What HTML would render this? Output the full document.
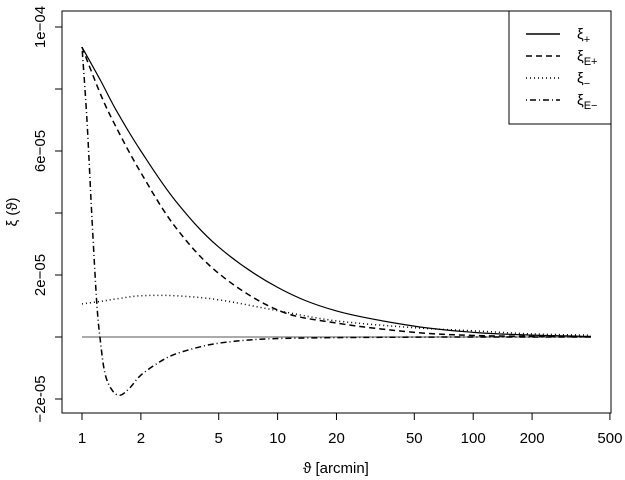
<!DOCTYPE html>
<html><head><meta charset="utf-8"><style>
body{margin:0;background:#fff}
svg{display:block;font-family:"Liberation Sans",sans-serif}
</style></head><body>
<svg id="chart" width="625" height="480" viewBox="0 0 625 480" xmlns="http://www.w3.org/2000/svg">
<rect x="0" y="0" width="625" height="480" fill="#fff"/>
<g id="axes"></g>
<g id="series"></g>
<g id="legend">
<rect x="509" y="11" width="102" height="113" fill="#fff" stroke="#000" stroke-width="1"/>
</g>
<text x="336" y="473" font-size="15" text-anchor="middle">ϑ [arcmin]</text>
<text transform="translate(17,212) rotate(-90)" font-size="15" text-anchor="middle">ξ (ϑ)</text>
</svg>
<script>
const xTicks=[1,2,5,10,20,50,100,200,500];
const yTicks=[-2e-5,0,2e-5,4e-5,6e-5,8e-5,1e-4];
const yTickLabels={"-2e-05":-2e-5,"2e-05":2e-5,"6e-05":6e-5,"1e-04":1e-4};
const thetaA=[1,1.25,1.5,2,3,5,10,20,50,100,200,400];
const xiPlus=[9.35e-5,8.25e-5,7.3e-5,6.0e-5,4.4e-5,2.9e-5,1.6e-5,0.84e-5,0.35e-5,0.15e-5,0.06e-5,0.02e-5];
const xiEPlus=[9.35e-5,7.8e-5,6.75e-5,5.3e-5,3.55e-5,2.05e-5,0.87e-5,0.45e-5,0.15e-5,0.05e-5,0.02e-5,0.005e-5];
const xiMinus=[1.07e-5,1.15e-5,1.23e-5,1.33e-5,1.33e-5,1.2e-5,0.85e-5,0.52e-5,0.3e-5,0.2e-5,0.1e-5,0.06e-5];
const thetaB=[1,1.06,1.125,1.19,1.24,1.31,1.42,1.56,1.75,2,2.5,3,4,5,7,10,20,50,100,400];
const xiEMinus=[9.35e-5,7.0e-5,3.8e-5,1.1e-5,-0.1e-5,-1.17e-5,-1.7e-5,-1.88e-5,-1.65e-5,-1.23e-5,-0.8e-5,-0.55e-5,-0.32e-5,-0.2e-5,-0.1e-5,-0.05e-5,-0.02e-5,-0.005e-5,0,0];

const NS="http://www.w3.org/2000/svg";
const X=t=>82+195.6*Math.log10(t);
const Y=v=>337-v*3.1e6;
function mk(tag,attrs,parent){const e=document.createElementNS(NS,tag);for(const k in attrs)e.setAttribute(k,attrs[k]);parent.appendChild(e);return e;}
const axes=document.getElementById('axes');
const box=mk('rect',{x:62,y:11,width:549,height:402,fill:'none',stroke:'#000','stroke-width':1},axes);


xTicks.forEach(t=>{
  const l=mk('line',{x1:X(t),x2:X(t),y1:413,y2:420,stroke:'#000'},axes);
  
  
  const tx=mk('text',{x:X(t),y:443,'font-size':15,'text-anchor':'middle'},axes);
  tx.textContent=String(t);
  
  
});
yTicks.forEach(v=>{
  const l=mk('line',{x1:55,x2:62,y1:Y(v),y2:Y(v),stroke:'#000'},axes);
  
  
});
Object.keys(yTickLabels).forEach(k=>{
  const v=yTickLabels[k];
  const tx=mk('text',{transform:`translate(45,${Y(v)}) rotate(-90)`,'font-size':15,'text-anchor':'middle'},axes);
  tx.textContent=k.replace('-','−');
  
  
});
const z=mk('line',{x1:X(1),x2:X(400),y1:Y(0),y2:Y(0),stroke:'#777','stroke-width':1.2},axes);



function pathD(ts,vs){
  const p=ts.map((t,i)=>[X(t),Y(vs[i])]);
  let d=`M${p[0][0]},${p[0][1]}`;
  for(let i=0;i<p.length-1;i++){
    const p0=p[Math.max(0,i-1)],p1=p[i],p2=p[i+1],p3=p[Math.min(p.length-1,i+2)];
    const c1=[p1[0]+(p2[0]-p0[0])/6,p1[1]+(p2[1]-p0[1])/6];
    const c2=[p2[0]-(p3[0]-p1[0])/6,p2[1]-(p3[1]-p1[1])/6];
    d+=` C${c1[0]},${c1[1]} ${c2[0]},${c2[1]} ${p2[0]},${p2[1]}`;
  }
  return d;
}
const series=document.getElementById('series');
const styles={plus:'',eplus:'6,4',minus:'1,3',eminus:'1,3,6,3'};
const sp=mk('path',{d:pathD(thetaA,xiPlus),fill:'none',stroke:'#000','stroke-width':1.2},series);


const se=mk('path',{d:pathD(thetaA,xiEPlus),fill:'none',stroke:'#000','stroke-width':1.5,'stroke-dasharray':styles.eplus},series);


const sm=mk('path',{d:pathD(thetaA,xiMinus),fill:'none',stroke:'#000','stroke-width':1.5,'stroke-dasharray':styles.minus},series);


const sem=mk('path',{d:pathD(thetaB,xiEMinus),fill:'none',stroke:'#000','stroke-width':1.5,'stroke-dasharray':styles.eminus},series);



const legend=document.getElementById('legend');
const items=[['+',''],['E+',styles.eplus],['−',styles.minus],['E−',styles.eminus]];
items.forEach((it,i)=>{
  const y=34+i*22;
  const l=mk('line',{x1:526,x2:560,y1:y,y2:y,stroke:'#000','stroke-width':1.5,'stroke-dasharray':it[1]},legend);
  
  
  const t=mk('text',{x:577,y:y+5,'font-size':15},legend);
  t.innerHTML=`ξ<tspan font-size="11" dy="4">${it[0]}</tspan>`;
  
  
});
</script>
</body></html>
